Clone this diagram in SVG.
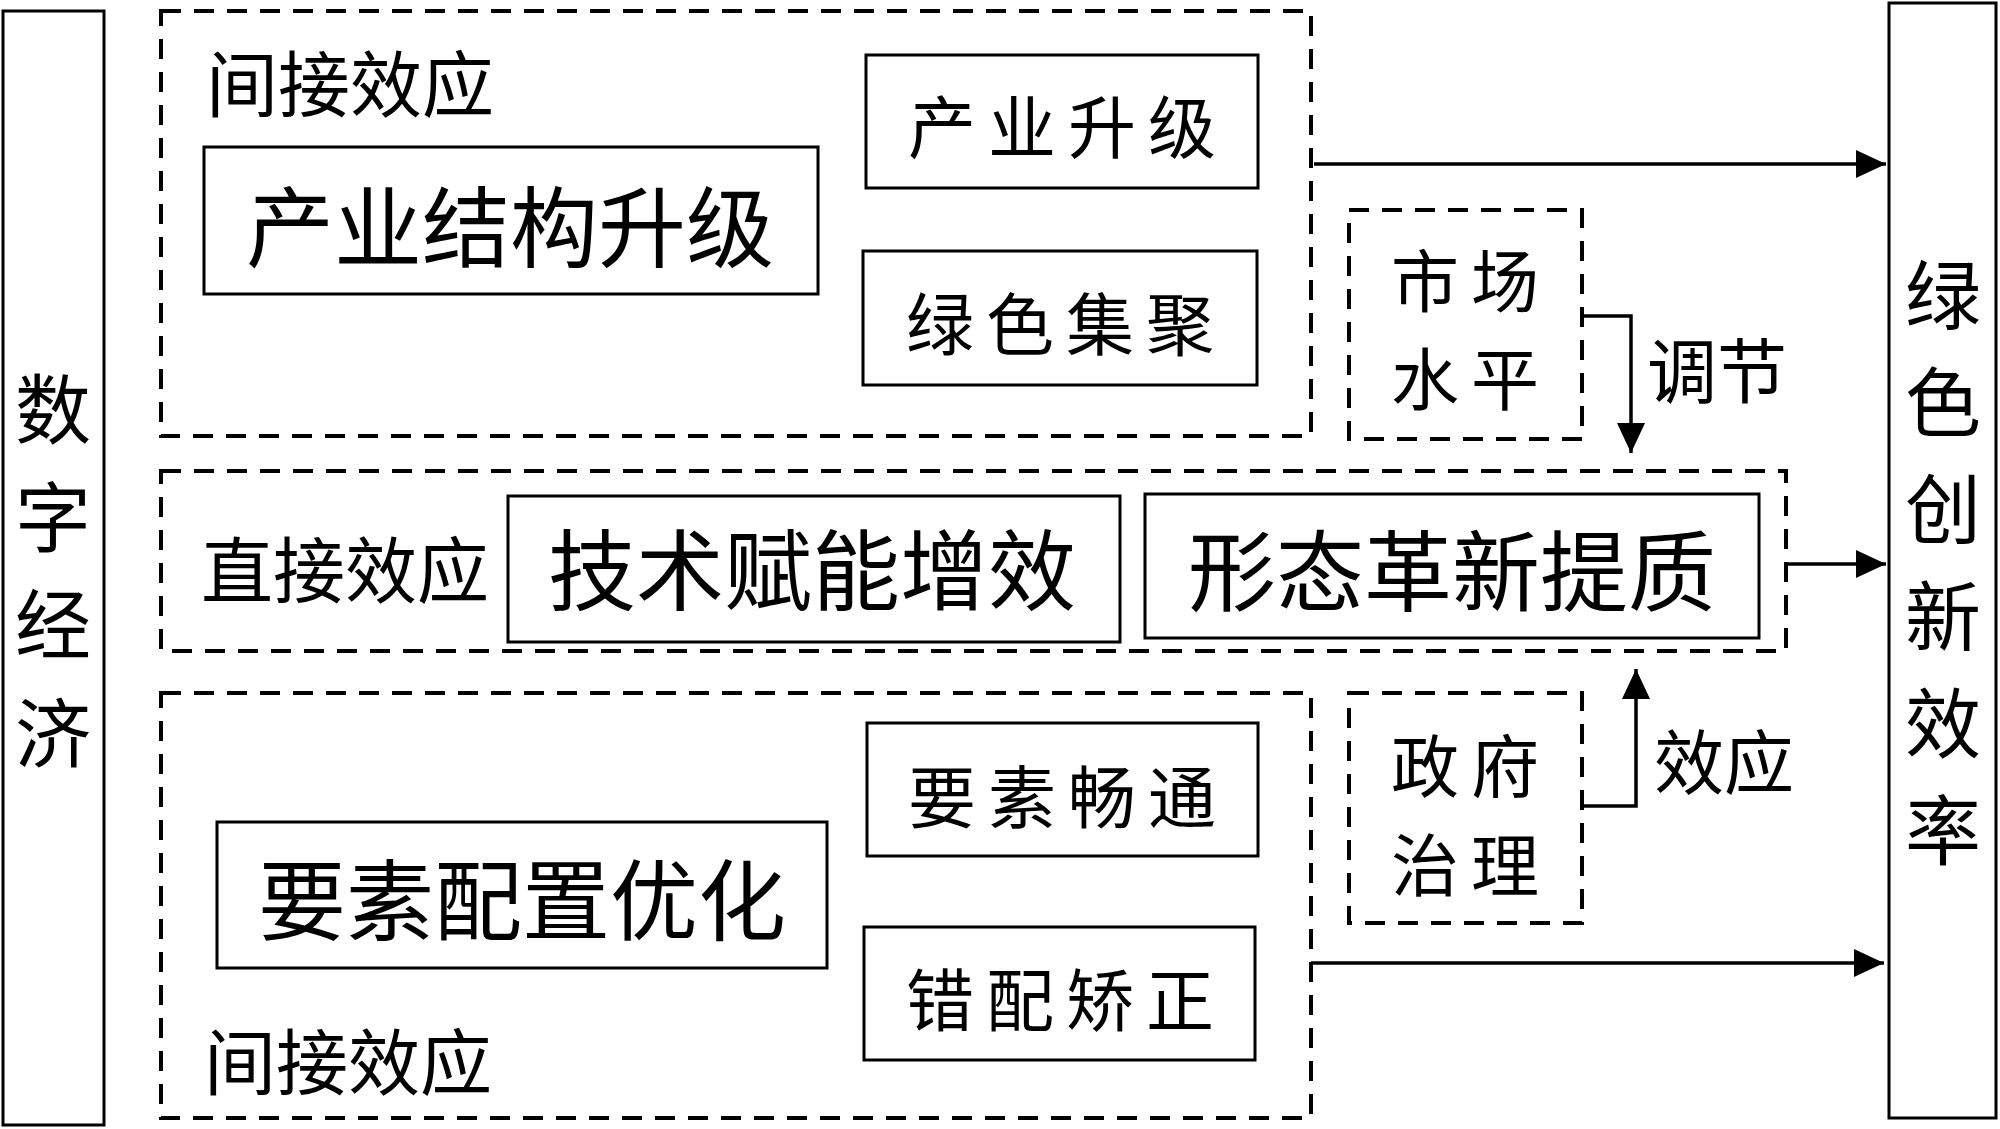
<svg xmlns="http://www.w3.org/2000/svg" width="2000" height="1129" viewBox="0 0 2000 1129">
<style>
text{font-family:"Noto Sans CJK SC","Noto Sans CJK JP",sans-serif;fill:#000}
.box{fill:#fff;stroke:#000;stroke-width:3}
.dash{fill:none;stroke:#000;stroke-width:4;stroke-dasharray:20 13}
.big{font-size:88px}
.mid{font-size:68px;letter-spacing:12px}
.lab{font-size:72px}
.side{font-size:76px;text-anchor:middle}
.mod{font-size:68px;letter-spacing:12px}
.note{font-size:70px}
.conn{fill:none;stroke:#000;stroke-width:3.5}
</style>
<defs>
<marker id="ah" markerWidth="30" markerHeight="28" refX="30" refY="14" orient="auto" markerUnits="userSpaceOnUse">
<path d="M0,0 L30,14 L0,28 Z" fill="#000"/>
</marker>
</defs>
<g id="digital-economy">
<rect class="box" x="3" y="11" width="101" height="1114"/>
<text class="side" x="53" y="438">数</text>
<text class="side" x="53" y="546">字</text>
<text class="side" x="53" y="653">经</text>
<text class="side" x="53" y="762">济</text>
</g>
<g id="green-innovation">
<rect class="box" x="1889" y="3" width="107" height="1115"/>
<text class="side" x="1943" y="324">绿</text>
<text class="side" x="1943" y="431">色</text>
<text class="side" x="1943" y="538">创</text>
<text class="side" x="1943" y="645">新</text>
<text class="side" x="1943" y="752">效</text>
<text class="side" x="1943" y="859">率</text>
</g>
<g id="indirect-top">
<rect class="dash" x="161" y="11" width="1150" height="425"/>
<text class="lab" x="206" y="111">间接效应</text>
</g>
<g id="industrial-structure">
<rect class="box" x="204" y="147" width="614" height="147"/>
<text class="big" x="246" y="260">产业结构升级</text>
</g>
<g id="industry-upgrade">
<rect class="box" x="866" y="55" width="392" height="133"/>
<text class="mid" x="908" y="153">产业升级</text>
</g>
<g id="green-agglomeration">
<rect class="box" x="863" y="251" width="394" height="134"/>
<text class="mid" x="906" y="350">绿色集聚</text>
</g>
<g id="market-level">
<rect class="dash" x="1349" y="210" width="233" height="229"/>
<text class="mod" x="1391" y="307">市场</text>
<text class="mod" x="1391" y="405">水平</text>
</g>
<g id="direct">
<rect class="dash" x="161" y="471" width="1625" height="180"/>
<text class="lab" x="201" y="597">直接效应</text>
</g>
<g id="tech-empower">
<rect class="box" x="508" y="496" width="612" height="146"/>
<text class="big" x="548" y="603">技术赋能增效</text>
</g>
<g id="form-innovation">
<rect class="box" x="1145" y="494" width="614" height="144"/>
<text class="big" x="1188" y="604">形态革新提质</text>
</g>
<g id="indirect-bottom">
<rect class="dash" x="161" y="693" width="1150" height="425"/>
<text class="lab" x="204" y="1089">间接效应</text>
</g>
<g id="factor-allocation">
<rect class="box" x="217" y="822" width="610" height="146"/>
<text class="big" x="258" y="933">要素配置优化</text>
</g>
<g id="factor-flow">
<rect class="box" x="867" y="723" width="391" height="133"/>
<text class="mid" x="908" y="823">要素畅通</text>
</g>
<g id="misallocation">
<rect class="box" x="864" y="927" width="391" height="133"/>
<text class="mid" x="906" y="1026">错配矫正</text>
</g>
<g id="government">
<rect class="dash" x="1349" y="693" width="233" height="230"/>
<text class="mod" x="1391" y="792">政府</text>
<text class="mod" x="1391" y="891">治理</text>
</g>
<g id="connectors">
<line class="conn" x1="1314" y1="164" x2="1886" y2="164" marker-end="url(#ah)"/>
<line class="conn" x1="1786" y1="564" x2="1886" y2="564" marker-end="url(#ah)"/>
<line class="conn" x1="1311" y1="963" x2="1884" y2="963" marker-end="url(#ah)"/>
<polyline class="conn" points="1582,316 1631,316 1631,453" marker-end="url(#ah)"/>
<polyline class="conn" points="1582,806 1636,806 1636,669" marker-end="url(#ah)"/>
<text class="note" x="1647" y="398">调节</text>
<text class="note" x="1654" y="789">效应</text>
</g>
</svg>
